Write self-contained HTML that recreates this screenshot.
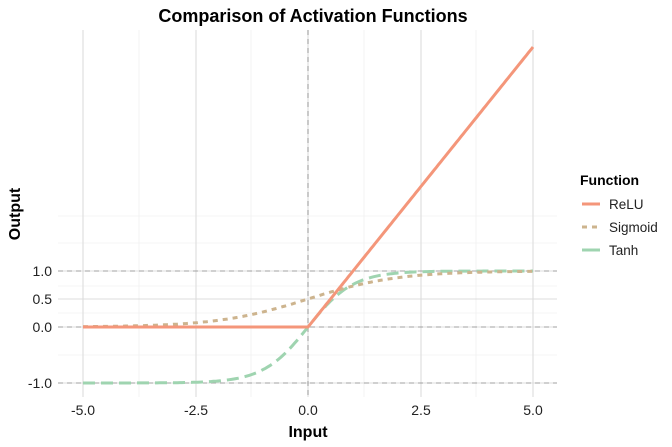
<!DOCTYPE html>
<html><head><meta charset="utf-8"><style>
body{margin:0;background:#fff;}
svg{display:block;font-family:"Liberation Sans",sans-serif;}
</style></head><body>
<svg id="s" width="672" height="447" viewBox="0 0 672 447">
<g stroke="#ebebeb" stroke-width="0.6">
<line x1="58" x2="557" y1="216" y2="216"/><line x1="58" x2="557" y1="243" y2="243"/>
<line x1="58" x2="557" y1="286" y2="286"/><line x1="58" x2="557" y1="313" y2="313"/>
<line x1="58" x2="557" y1="355" y2="355"/>
<line x1="139" x2="139" y1="30" y2="397"/><line x1="251" x2="251" y1="30" y2="397"/>
<line x1="364" x2="364" y1="30" y2="397"/><line x1="476" x2="476" y1="30" y2="397"/>
</g>
<g stroke="#dcdcdc" stroke-width="1.1">
<line x1="58" x2="557" y1="271" y2="271"/><line x1="58" x2="557" y1="299" y2="299"/>
<line x1="58" x2="557" y1="327" y2="327"/><line x1="58" x2="557" y1="383" y2="383"/>
<line x1="83" x2="83" y1="30" y2="397"/><line x1="196" x2="196" y1="30" y2="397"/>
<line x1="308" x2="308" y1="30" y2="397"/><line x1="421" x2="421" y1="30" y2="397"/>
<line x1="533" x2="533" y1="30" y2="397"/>
</g>
<g stroke="#a0a0a0" stroke-width="1.1" stroke-dasharray="5,4">
<line x1="58" x2="557" y1="271" y2="271"/><line x1="58" x2="557" y1="327" y2="327"/>
<line x1="58" x2="557" y1="383" y2="383"/><line x1="308" x2="308" y1="30" y2="397"/>
</g>
<g id="curves" fill="none" stroke-width="3"></g>
<g font-size="14" fill="#222" text-anchor="end">
<text x="52" y="276">1.0</text><text x="52" y="304">0.5</text>
<text x="52" y="332">0.0</text><text x="52" y="388">-1.0</text>
</g>
<g font-size="14" fill="#222" text-anchor="middle">
<text x="83" y="415">-5.0</text><text x="196" y="415">-2.5</text><text x="308" y="415">0.0</text>
<text x="421" y="415">2.5</text><text x="533" y="415">5.0</text>
</g>
<text x="308" y="437" font-size="16" font-weight="bold" text-anchor="middle">Input</text>
<text transform="translate(20,214) rotate(-90)" font-size="16" font-weight="bold" text-anchor="middle">Output</text>
<text x="313" y="22" font-size="18" font-weight="bold" text-anchor="middle">Comparison of Activation Functions</text>
<text x="580" y="185" font-size="14" font-weight="bold">Function</text>
<line x1="582" x2="600" y1="204" y2="204" stroke="#F4967A" stroke-width="3"/>
<line x1="582" x2="600" y1="227" y2="227" stroke="#CDB48E" stroke-width="3" stroke-dasharray="5,5"/>
<line x1="582" x2="600" y1="250" y2="250" stroke="#9FD4B0" stroke-width="3"/>
<g font-size="13.5" fill="#222"><text x="609" y="209">ReLU</text><text x="609" y="232">Sigmoid</text><text x="609" y="255">Tanh</text></g>
</svg>
<script>
function X(x){return 308+x*45}function Y(y){return 327-y*56}
function pts(f){var a=[];for(var i=0;i<=200;i++){var x=-5+i*0.05;a.push(X(x).toFixed(1)+','+Y(f(x)).toFixed(1));}return a.join(' ');}
var g=document.getElementById('curves');
function add(f,c,d){var p=document.createElementNS('http://www.w3.org/2000/svg','polyline');p.setAttribute('points',pts(f));p.setAttribute('stroke',c);if(d)p.setAttribute('stroke-dasharray',d);g.appendChild(p);}
add(function(x){return Math.tanh(x)},'#9FD4B0','12,6');
add(function(x){return 1/(1+Math.exp(-x))},'#CDB48E','5,5');
add(function(x){return Math.max(0,x)},'#F4967A');
</script>
</body></html>
